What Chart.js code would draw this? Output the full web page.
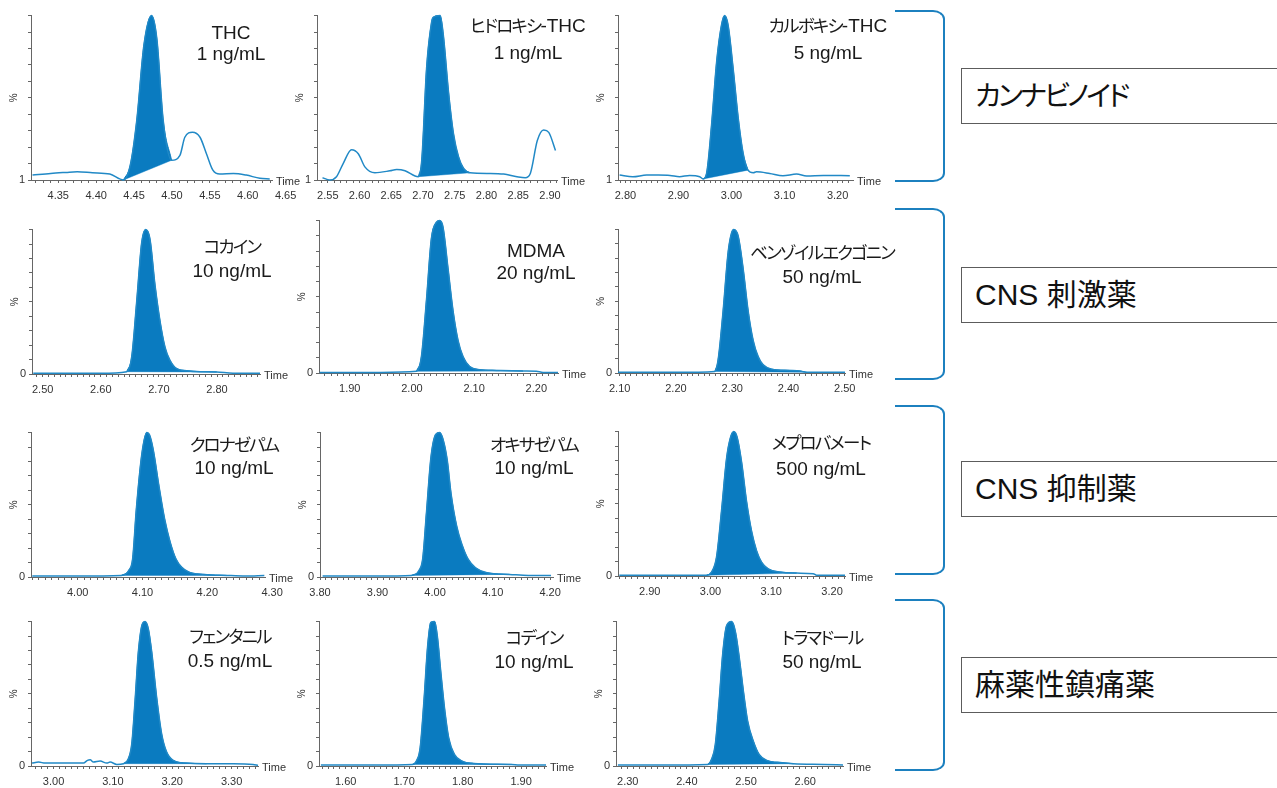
<!DOCTYPE html>
<html lang="ja">
<head>
<meta charset="utf-8">
<title>クロマトグラム</title>
<script src="https://cdn.jsdelivr.net/npm/chart.js@4.4.1/dist/chart.umd.min.js"></script>
<style>
  html, body { margin: 0; padding: 0; background: #fff; }
  body {
    position: relative; width: 1277px; height: 788px; overflow: hidden;
    font-family: "Liberation Sans", Arial, "Noto Sans CJK JP", sans-serif;
  }
  canvas.panel { position: absolute; }
  .cmp {
    position: absolute; transform: translate(-50%, -50%); white-space: nowrap;
    font-size: 19px; line-height: 1; color: #1a1a1a; font-feature-settings: "palt";
  }
  .cmp .kana { font-size: 17.5px; letter-spacing: -1.8px; }
  .group {
    position: absolute; left: 961px; width: 340px; height: 56px; box-sizing: border-box;
    border: 1.5px solid #5c5c5c; padding-left: 13px; font-size: 30px; line-height: 53px;
    color: #111; font-feature-settings: "palt";
  }
  .group .kana { font-size: 28px; letter-spacing: -2.8px; }
  .bracket {
    position: absolute; left: 895px; width: 50px; box-sizing: border-box;
    border: 2.5px solid #1c80bf; border-left: none;
    border-radius: 0 12px 12px 0 / 0 9px 9px 0;
  }
</style>
</head>
<body>
<script>
// ---- labels ----
const compounds = ['THC', 'ヒドロキシ-THC', 'カルボキシ-THC', 'コカイン', 'MDMA', 'ベンゾイルエクゴニン',
  'クロナゼパム', 'オキサゼパム', 'メプロバメート', 'フェンタニル', 'コデイン', 'トラマドール'];
const concentrations = ['1 ng/mL', '1 ng/mL', '5 ng/mL', '10 ng/mL', '20 ng/mL', '50 ng/mL',
  '10 ng/mL', '10 ng/mL', '500 ng/mL', '0.5 ng/mL', '10 ng/mL', '50 ng/mL'];
const groups = ['カンナビノイド', 'CNS 刺激薬', 'CNS 抑制薬', '麻薬性鎮痛薬'];
const yBottomLabels = ['1', '1', '1', '0', '0', '0', '0', '0', '0', '0', '0', '0'];

// ---- time axis (min) ----
const xMin = [4.314, 2.533, 2.786, 2.4816, 1.8506, 2.097, 3.928, 3.80, 2.8478, 2.962, 1.5544, 2.2802];
const xMax = [4.632, 2.911, 3.229, 2.874, 2.2349, 2.5004, 4.289, 4.205, 3.2213, 3.3445, 1.9426, 2.6638];
const xTickLabels = [
  [4.35, 4.40, 4.45, 4.50, 4.55, 4.60, 4.65],
  [2.55, 2.60, 2.65, 2.70, 2.75, 2.80, 2.85, 2.90],
  [2.80, 2.90, 3.00, 3.10, 3.20],
  [2.50, 2.60, 2.70, 2.80],
  [1.90, 2.00, 2.10, 2.20],
  [2.10, 2.20, 2.30, 2.40, 2.50],
  [4.00, 4.10, 4.20, 4.30],
  [3.80, 3.90, 4.00, 4.10, 4.20],
  [2.90, 3.00, 3.10, 3.20],
  [3.00, 3.10, 3.20, 3.30],
  [1.60, 1.70, 1.80, 1.90],
  [2.30, 2.40, 2.50, 2.60]
];

// ---- traces: time (min) and relative intensity (%) ----
const thcTime = [4.316, 4.340, 4.360, 4.375, 4.395, 4.418, 4.436, 4.445, 4.4535, 4.463, 4.473, 4.480, 4.4885, 4.4995, 4.5105, 4.517, 4.527, 4.537, 4.5455, 4.554, 4.563, 4.581, 4.598, 4.616, 4.629];
const thcSignal = [3.0, 4.0, 4.6, 5.0, 4.4, 3.6, 0, 9, 36, 82, 100, 86, 36, 12, 15, 26, 29, 26, 16, 6, 3.6, 4, 3, 1, 0.6];

const ohThcTime = [2.5417, 2.553, 2.5637, 2.5742, 2.5874, 2.598, 2.6084, 2.6242, 2.6479, 2.6585, 2.6716, 2.6874, 2.6926, 2.698, 2.7056, 2.7135, 2.716, 2.7269, 2.732, 2.740, 2.748, 2.756, 2.764, 2.774, 2.806, 2.827, 2.848, 2.861, 2.869, 2.880, 2.890, 2.898, 2.9086];
const ohThcSignal = [1.4, 0, 2, 10, 18.4, 16, 8, 4.4, 5.6, 6.4, 5.6, 2.4, 2, 12, 68, 96, 99, 100, 88, 54, 28, 14, 7, 4.4, 4, 3.6, 2, 1.4, 4, 24, 30.4, 29, 18];

const cooThcTime = [2.789, 2.814, 2.840, 2.862, 2.884, 2.902, 2.921, 2.940, 2.9465, 2.953, 2.962, 2.972, 2.981, 2.987, 2.9936, 3.003, 3.0125, 3.022, 3.031, 3.041, 3.047, 3.072, 3.097, 3.1226, 3.1415, 3.173, 3.223];
const cooThcSignal = [3, 2, 3, 3, 2.8, 2, 2.8, 2, 0.6, 4, 32, 72, 94, 100, 94, 68, 38, 16, 6, 4.4, 5, 4, 2.6, 3.6, 2.4, 2.8, 2.6];

const cocaineTime = [2.4838, 2.55, 2.60, 2.6446, 2.6532, 2.6618, 2.6704, 2.6773, 2.6847, 2.6933, 2.7019, 2.7105, 2.7191, 2.7306, 2.7478, 2.7707, 2.7995, 2.8275, 2.874];
const cocaineSignal = [0.5, 0.5, 0.5, 1.6, 11.8, 50.2, 91, 100, 93.2, 61.5, 36.7, 18.6, 9.5, 3.8, 2.3, 1.6, 1.4, 0.5, 0.5];

const mdmaTime = [1.8518, 1.95, 2.0072, 2.0153, 2.0233, 2.0313, 2.0394, 2.0447, 2.05, 2.058, 2.0661, 2.0741, 2.0822, 2.0929, 2.109, 2.1359, 2.1786, 2.2002, 2.2108, 2.2349];
const mdmaSignal = [0.4, 0.4, 1.1, 10.8, 47.3, 88.2, 98.9, 100, 95.7, 68.8, 40.9, 21.5, 10.8, 4.3, 2.2, 1.7, 1.3, 1.1, 0.4, 0.4];

const bzeTime = [2.097, 2.20, 2.269, 2.2749, 2.2838, 2.2927, 2.2988, 2.3028, 2.3105, 2.3194, 2.3283, 2.3372, 2.3461, 2.355, 2.37, 2.4025, 2.4203, 2.4322, 2.5004];
const bzeSignal = [0.5, 0.5, 1.1, 9.1, 43.2, 84.1, 97.7, 100, 95.5, 72.7, 43.2, 22.7, 11.4, 5.7, 2.7, 1.8, 1.4, 0.5, 0.5];

const clonazepamTime = [3.930, 4.00, 4.0674, 4.0789, 4.0848, 4.0905, 4.0992, 4.1068, 4.1108, 4.1166, 4.1254, 4.1342, 4.1428, 4.1515, 4.1602, 4.1718, 4.1951, 4.2298, 4.2589, 4.288];
const clonazepamSignal = [0.7, 0.7, 1.1, 4.6, 12.6, 46.9, 85.8, 100, 98.4, 88.1, 62.9, 40, 24, 12.6, 6.9, 3.4, 1.8, 1.1, 0.7, 1.1];

const oxazepamTime = [3.8045, 3.90, 3.9588, 3.972, 3.9785, 3.985, 3.9929, 4.0014, 4.008, 4.0146, 4.0212, 4.0277, 4.0376, 4.0475, 4.0572, 4.0704, 4.0901, 4.1294, 4.1623, 4.2016];
const oxazepamSignal = [0.7, 0.7, 1.1, 4.5, 12.5, 44.3, 83, 98.9, 100, 94.3, 80.7, 58, 35.2, 21.6, 12.5, 6.4, 2.95, 1.8, 1.1, 1.1];

const meprobamateTime = [2.85, 2.95, 2.9934, 3.0017, 3.0099, 3.0181, 3.0264, 3.033, 3.0384, 3.0438, 3.0511, 3.0593, 3.0675, 3.0758, 3.084, 3.0949, 3.1142, 3.1417, 3.169, 3.1746, 3.2213];
const meprobamateSignal = [0.5, 0.5, 0.5, 2.7, 13, 44.9, 81.3, 96.1, 100, 96.1, 79, 51.7, 31.2, 17.5, 9.6, 5, 2.7, 2, 1.6, 0.5, 0.5];

const fentanylTime = [2.9637, 2.9748, 2.986, 3.0504, 3.0571, 3.0617, 3.0672, 3.0785, 3.0897, 3.0953, 3.1066, 3.1176, 3.126, 3.1318, 3.1373, 3.1429, 3.1496, 3.1541, 3.1597, 3.1654, 3.1738, 3.1822, 3.1906, 3.2017, 3.2242, 3.2578, 3.3025, 3.3361, 3.3445];
const fentanylSignal = [2, 2.7, 2, 2, 3.9, 4.3, 2.7, 3.4, 2, 2.7, 1.1, 1.6, 5, 15.3, 44.9, 79, 98.4, 100, 95, 79, 47.2, 22.1, 9.6, 3.9, 2, 1.6, 1.6, 1.1, 0.5];

const codeineTime = [1.5576, 1.65, 1.7142, 1.7209, 1.7274, 1.7338, 1.7403, 1.7456, 1.7521, 1.7566, 1.7632, 1.7697, 1.7762, 1.786, 1.7991, 1.8186, 1.8839, 1.8969, 1.9426];
const codeineSignal = [0.7, 0.7, 1.1, 3.4, 12.6, 44.6, 83.5, 99.5, 100, 90.4, 62.9, 37.8, 19.5, 8, 3.4, 1.8, 1.1, 0.7, 0.7];

const tramadolTime = [2.2834, 2.36, 2.435, 2.4416, 2.448, 2.4544, 2.4608, 2.4672, 2.4757, 2.4821, 2.4887, 2.4963, 2.5027, 2.5123, 2.5221, 2.535, 2.5608, 2.5801, 2.6318, 2.6638];
const tramadolSignal = [0.7, 0.7, 1.1, 4.6, 14.9, 44.6, 78.9, 97.3, 100, 92.7, 74.4, 49.2, 31, 17.2, 8, 3.9, 2.3, 1.6, 1.1, 0.7];

// integration window of each peak [start, end] (min)
const peakStart = [4.436, 2.6926, 2.9465, 2.6446, 2.0072, 2.269, 4.0674, 3.9588, 2.9934, 3.1176, 1.7142, 2.435];
const peakEnd = [4.4995, 2.774, 3.031, 2.7995, 2.1786, 2.4322, 4.2298, 4.1294, 3.1417, 3.2578, 1.8839, 2.5801];

const traceTimes = [thcTime, ohThcTime, cooThcTime, cocaineTime, mdmaTime, bzeTime,
  clonazepamTime, oxazepamTime, meprobamateTime, fentanylTime, codeineTime, tramadolTime];
const traceSignals = [thcSignal, ohThcSignal, cooThcSignal, cocaineSignal, mdmaSignal, bzeSignal,
  clonazepamSignal, oxazepamSignal, meprobamateSignal, fentanylSignal, codeineSignal, tramadolSignal];

// ---- page layout ----
// plot box of each panel on the page: [left, right, top, bottom]
const panelBox = [
  [31, 272, 13, 180], [317, 557, 13, 180], [618, 853, 13, 180],
  [32, 260, 227, 374], [319, 558, 218, 373], [618, 845, 227, 373],
  [31, 265, 430, 577], [320, 553, 430, 577], [618, 845, 429, 576],
  [31, 258, 619, 766], [319, 546, 619, 766], [616, 843, 619, 766]
];
// compound caption: [centre x, line 1 y, line 2 y]
const captionPos = [
  [231, 32, 53], [528, 26, 52], [828, 26, 52],
  [232, 247, 270], [536, 250, 272], [822, 253, 276],
  [234, 445, 467], [534, 445, 467], [821, 443, 468],
  [230, 637, 660], [534, 638, 661], [822, 638, 661]
];
const groupBoxTop = [68, 267, 461, 657];
const bracketSpan = [[10, 182], [208, 380], [405, 575], [599, 771]];

const AXIS_W = 30, TOP_PAD = 7, RIGHT_PAD = 40, XAXIS_H = 24;
const FILL = '#0a7bc0', TRACE = '#2189c6', BASE_LINE = '#8fc4e6', AXIS = '#666', TEXT = '#333';

Chart.defaults.font.family = '"Liberation Sans", Arial, sans-serif';
Chart.defaults.font.size = 11;
Chart.defaults.color = TEXT;

const timeLabel = {
  id: 'timeLabel',
  afterDraw(chart) {
    const { ctx, chartArea } = chart;
    ctx.save();
    ctx.font = '11px "Liberation Sans", Arial, sans-serif';
    ctx.fillStyle = TEXT;
    ctx.textBaseline = 'middle';
    ctx.fillText('Time', chartArea.right + 4, chartArea.bottom + 2);
    ctx.restore();
  }
};

function buildXTicks(i) {
  const ticks = [];
  const k0 = Math.ceil(xMin[i] * 100 - 1e-6), k1 = Math.floor(xMax[i] * 100 + 1e-6);
  for (let k = k0; k <= k1; k++) ticks.push({ value: k / 100 });
  // a label can sit just past the end of the axis line, as in the original
  xTickLabels[i].forEach(v => { if (v > xMax[i] + 1e-6) ticks.push({ value: v }); });
  return ticks;
}

function makePanel(i) {
  const [L, R, T, B] = panelBox[i];
  const w = R - L + AXIS_W + RIGHT_PAD, h = B - T + TOP_PAD + XAXIS_H;
  const canvas = document.createElement('canvas');
  canvas.className = 'panel';
  canvas.width = w; canvas.height = h;
  canvas.style.left = (L - AXIS_W) + 'px';
  canvas.style.top = (T - TOP_PAD) + 'px';
  canvas.style.width = w + 'px';
  canvas.style.height = h + 'px';
  document.body.appendChild(canvas);

  const trace = traceTimes[i].map((x, k) => ({ x, y: traceSignals[i][k] }));
  const peak = trace.filter(p => p.x >= peakStart[i] - 1e-9 && p.x <= peakEnd[i] + 1e-9);
  const baseline = [peak[0], peak[peak.length - 1]];

  new Chart(canvas, {
    type: 'line',
    data: {
      datasets: [
        { data: trace, borderColor: TRACE, borderWidth: 1.5, pointRadius: 0, fill: false,
          cubicInterpolationMode: 'monotone', clip: 4 },
        { data: peak, borderColor: FILL, backgroundColor: FILL, borderWidth: 1, pointRadius: 0,
          fill: '+1', cubicInterpolationMode: 'monotone', clip: 4 },
        { data: baseline, borderColor: BASE_LINE, borderWidth: 1, pointRadius: 0, fill: false }
      ]
    },
    options: {
      responsive: false,
      animation: false,
      devicePixelRatio: 1,
      events: [],
      layout: { padding: { top: TOP_PAD, right: RIGHT_PAD, left: 0, bottom: 0 } },
      plugins: { legend: { display: false }, tooltip: { enabled: false } },
      scales: {
        x: {
          type: 'linear', min: xMin[i], max: xMax[i],
          afterBuildTicks: sc => { sc.ticks = buildXTicks(i); },
          afterFit: sc => { sc.height = XAXIS_H; },
          ticks: {
            autoSkip: false, maxRotation: 0, padding: 6, color: TEXT,
            callback: v => xTickLabels[i].some(l => Math.abs(l - v) < 1e-6) ? v.toFixed(2) : ''
          },
          grid: { drawOnChartArea: false, drawTicks: true, tickLength: 3, color: AXIS },
          border: { color: AXIS, width: 1 }
        },
        y: {
          min: 0, max: 100,
          afterFit: sc => { sc.width = AXIS_W; },
          ticks: { stepSize: 10, autoSkip: false, padding: 3, color: TEXT,
                   callback: v => v === 0 ? yBottomLabels[i] : '' },
          grid: { drawOnChartArea: false, drawTicks: true, tickLength: 3, color: AXIS },
          border: { color: AXIS, width: 1 },
          title: { display: true, text: '%', color: TEXT, font: { size: 10 }, padding: { top: 7, bottom: 0 } }
        }
      }
    },
    plugins: [timeLabel]
  });
}

// kana runs get their own size and spacing, like the proportional font of the original
function kanaSpans(el, txt) {
  txt.split(/([\u3040-\u30ff]+)/).forEach(part => {
    if (!part) return;
    if (/[\u3040-\u30ff]/.test(part)) {
      const s = document.createElement('span');
      s.className = 'kana';
      s.textContent = part;
      el.appendChild(s);
    } else {
      el.appendChild(document.createTextNode(part));
    }
  });
}

function addCaption(i) {
  const [cx, y1, y2] = captionPos[i];
  [[compounds[i], y1], [concentrations[i], y2]].forEach(([txt, y]) => {
    const d = document.createElement('div');
    d.className = 'cmp';
    kanaSpans(d, txt);
    d.style.left = cx + 'px';
    d.style.top = y + 'px';
    document.body.appendChild(d);
  });
}

for (let i = 0; i < compounds.length; i++) makePanel(i);
for (let i = 0; i < compounds.length; i++) addCaption(i);

groups.forEach((g, k) => {
  const br = document.createElement('div');
  br.className = 'bracket';
  br.style.top = bracketSpan[k][0] + 'px';
  br.style.height = (bracketSpan[k][1] - bracketSpan[k][0]) + 'px';
  document.body.appendChild(br);

  const box = document.createElement('div');
  box.className = 'group';
  box.style.top = groupBoxTop[k] + 'px';
  kanaSpans(box, g);
  document.body.appendChild(box);
});
</script>
</body>
</html>
